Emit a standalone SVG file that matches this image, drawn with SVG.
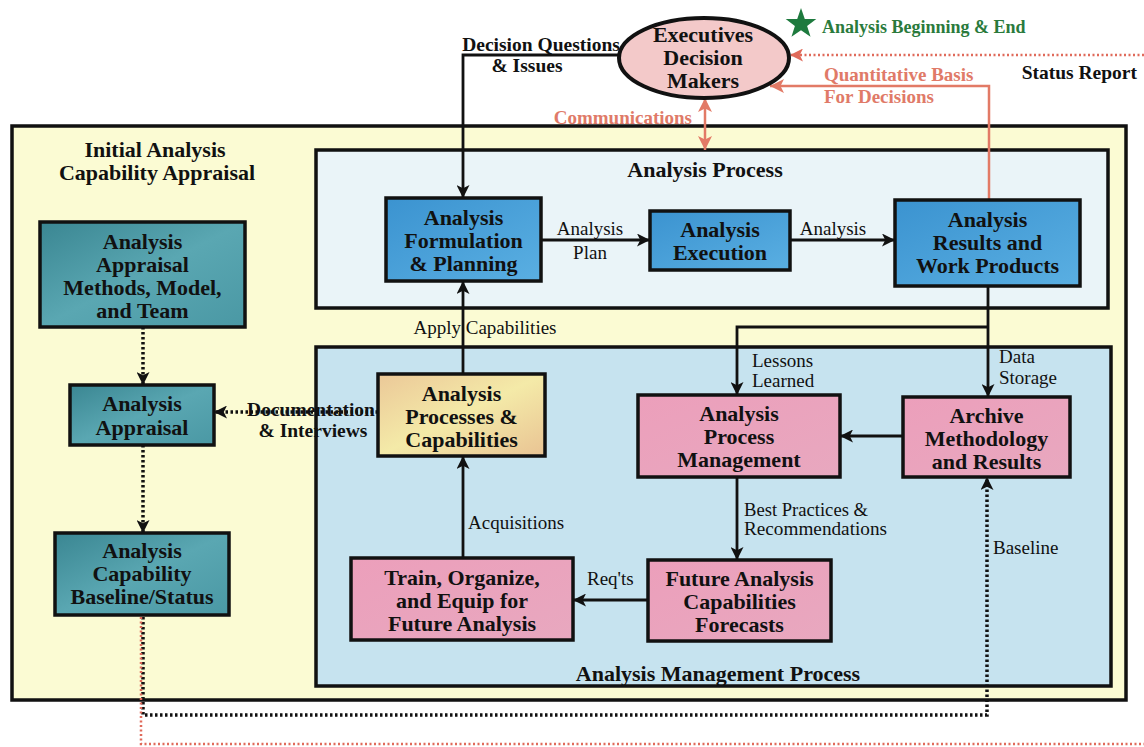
<svg xmlns="http://www.w3.org/2000/svg" width="1144" height="747" viewBox="0 0 1144 747">
<defs>
<style>
.bt{font-family:"Liberation Serif","Times New Roman",serif;font-weight:bold;fill:#111;text-anchor:middle;font-size:22px}
.box{stroke:#111;stroke-width:3.5}
.lbl{font-family:"Liberation Serif","Times New Roman",serif;fill:#111;font-size:19px}
.blbl{font-family:"Liberation Serif","Times New Roman",serif;font-weight:bold;fill:#111;font-size:19.5px}
.red{font-family:"Liberation Serif","Times New Roman",serif;font-weight:bold;fill:#e07a68;font-size:19px}
.ln{fill:none;stroke:#111;stroke-width:2.8}
.dot{fill:none;stroke:#111;stroke-width:3.5;stroke-dasharray:2.5 2.5}
.rln{fill:none;stroke:#e27a66;stroke-width:2.5}
.rdot{fill:none;stroke:#e06a5a;stroke-width:2.5;stroke-dasharray:2 2.5}
</style>
<marker id="ah" viewBox="0 0 12 12" markerWidth="13" markerHeight="13" refX="12" refY="6" orient="auto" markerUnits="userSpaceOnUse"><path d="M0,0 L12,6 L0,12 L3,6 z" fill="#111"/></marker>
<marker id="rah" viewBox="0 0 12 12" markerWidth="14" markerHeight="14" refX="12" refY="6" orient="auto-start-reverse" markerUnits="userSpaceOnUse"><path d="M0,0 L12,6 L0,12 L3,6 z" fill="#e27a66"/></marker>
<marker id="rdah" viewBox="0 0 12 12" markerWidth="13" markerHeight="13" refX="12" refY="6" orient="auto" markerUnits="userSpaceOnUse"><path d="M0,0 L12,6 L0,12 L3,6 z" fill="#e06a5a"/></marker>
<linearGradient id="blue" x1="0" y1="0" x2="1" y2="1"><stop offset="0" stop-color="#3b93d0"/><stop offset="1" stop-color="#5aafe2"/></linearGradient>
<linearGradient id="teal" x1="0" y1="0" x2="1" y2="1"><stop offset="0" stop-color="#3a8692"/><stop offset="0.5" stop-color="#5aa7b2"/><stop offset="1" stop-color="#4a98a4"/></linearGradient>
<linearGradient id="pink" x1="0" y1="0" x2="1" y2="1"><stop offset="0" stop-color="#ec9fbb"/><stop offset="1" stop-color="#e8a8bf"/></linearGradient>
<linearGradient id="tan" x1="0" y1="0" x2="1" y2="1"><stop offset="0" stop-color="#ebc898"/><stop offset="0.5" stop-color="#f4eaa8"/><stop offset="1" stop-color="#e9c393"/></linearGradient>
</defs>
<rect width="1144" height="747" fill="#ffffff"/>

<g id="containers">
<rect x="12" y="126" width="1114" height="574" fill="#fbfbd3" stroke="#111" stroke-width="3.5"/>
<text class="bt" x="155" y="157">Initial Analysis</text>
<text class="bt" x="157" y="180">Capability Appraisal</text>
<rect x="316" y="150" width="792" height="158" fill="#eaf4f8" stroke="#111" stroke-width="3.5"/>
<text class="bt" x="705" y="177">Analysis Process</text>
<rect x="316" y="347" width="795" height="339" fill="#c6e3ef" stroke="#111" stroke-width="3.5"/>
<text class="bt" x="718" y="681">Analysis Management Process</text>
</g>

<g id="connectors">
<path class="ln" d="M621,55 H463 V198" marker-end="url(#ah)"/>
<path class="ln" d="M541,240 H650" marker-end="url(#ah)"/>
<path class="ln" d="M790,240 H895" marker-end="url(#ah)"/>
<path class="ln" d="M463,374 V281" marker-end="url(#ah)"/>
<path class="ln" d="M988,286 V397" marker-end="url(#ah)"/>
<path class="ln" d="M988,327 H737 V395" marker-end="url(#ah)"/>
<path class="ln" d="M903,436 H840" marker-end="url(#ah)"/>
<path class="ln" d="M737,477 V560" marker-end="url(#ah)"/>
<path class="ln" d="M648,600 H573" marker-end="url(#ah)"/>
<path class="ln" d="M463,558 V456" marker-end="url(#ah)"/>
<path class="dot" d="M378,412 H214" marker-end="url(#ah)"/>
<path class="dot" d="M143,327 V385" marker-end="url(#ah)"/>
<path class="dot" d="M143,445 V533" marker-end="url(#ah)"/>
<path class="dot" d="M143,617 V715 H987 V477" marker-end="url(#ah)"/>
<path class="rdot" d="M141,617 V744 H1144"/>
<path class="rdot" d="M1144,55 H790" marker-end="url(#rdah)"/>
<path class="rln" d="M989,200 V86 H770" marker-end="url(#rah)"/>
<path class="rln" d="M705,150 V98" stroke-width="3" marker-start="url(#rah)" marker-end="url(#rah)"/>
<text class="blbl" x="541" y="51" text-anchor="middle">Decision Questions</text>
<text class="blbl" x="527" y="72" text-anchor="middle">&amp; Issues</text>
<text class="red" x="692" y="124" text-anchor="end">Communications</text>
<text class="red" x="824" y="81">Quantitative Basis</text>
<text class="red" x="824" y="103">For Decisions</text>
<text class="blbl" x="1137" y="79" text-anchor="end">Status Report</text>
<text class="lbl" x="590" y="235" text-anchor="middle" font-size="19.5">Analysis</text>
<text class="lbl" x="590" y="259" text-anchor="middle" font-size="19.5">Plan</text>
<text class="lbl" x="833" y="235" text-anchor="middle" font-size="19.5">Analysis</text>
<text class="lbl" x="485" y="334" text-anchor="middle">Apply Capabilities</text>
<text class="lbl" x="752" y="367" font-size="17">Lessons</text>
<text class="lbl" x="752" y="387" font-size="17">Learned</text>
<text class="lbl" x="999" y="363" font-size="13.5">Data</text>
<text class="lbl" x="999" y="384" font-size="13.5">Storage</text>
<text class="lbl" x="744" y="516" font-size="17" textLength="124" lengthAdjust="spacingAndGlyphs">Best Practices &amp;</text>
<text class="lbl" x="744" y="535" font-size="17" textLength="143" lengthAdjust="spacingAndGlyphs">Recommendations</text>
<text class="lbl" x="468" y="529">Acquisitions</text>
<text class="lbl" x="587" y="585" font-size="16.5">Req'ts</text>
<text class="lbl" x="993" y="554">Baseline</text>
<text class="blbl" x="311" y="416" text-anchor="middle" font-size="20">Documentation</text>
<text class="blbl" x="313" y="437" text-anchor="middle" font-size="20">&amp; Interviews</text>
</g>

<g id="legend">
<polygon points="801,10 804.3,19.5 814.3,19.5 806.3,25.5 809.3,35 801,29.3 792.7,35 795.7,25.5 787.7,19.5 797.7,19.5" fill="#1e7a3e" transform="translate(801,23) scale(1.15) translate(-801,-23)"/>
<text x="822" y="33" font-family="Liberation Serif, Times New Roman, serif" font-weight="bold" font-size="18" fill="#2a7a3c">Analysis  Beginning &amp; End</text>
</g>

<g id="executives">
<ellipse cx="704" cy="58" rx="85" ry="40" fill="#f3c9c9" stroke="#111" stroke-width="4"/>
<text class="bt" x="703" y="42" font-size="20">Executives</text>
<text class="bt" x="703" y="65" font-size="20">Decision</text>
<text class="bt" x="703" y="88" font-size="20">Makers</text>
</g>

<g id="formulation">
<rect class="box" x="386" y="198" width="155" height="83" fill="url(#blue)"/>
<text class="bt" x="463.5" y="225">Analysis</text>
<text class="bt" x="463.5" y="248">Formulation</text>
<text class="bt" x="463.5" y="271">&amp; Planning</text>
</g>

<g id="execution">
<rect class="box" x="650" y="211" width="140" height="59" fill="url(#blue)"/>
<text class="bt" x="720" y="237">Analysis</text>
<text class="bt" x="720" y="260">Execution</text>
</g>

<g id="results">
<rect class="box" x="895" y="200" width="185" height="86" fill="url(#blue)"/>
<text class="bt" x="987.5" y="227">Analysis</text>
<text class="bt" x="987.5" y="250">Results and</text>
<text class="bt" x="987.5" y="273">Work Products</text>
</g>

<g id="proccap">
<rect class="box" x="378" y="374" width="167" height="82" fill="url(#tan)"/>
<text class="bt" x="461.5" y="401">Analysis</text>
<text class="bt" x="461.5" y="424">Processes &amp;</text>
<text class="bt" x="461.5" y="447">Capabilities</text>
</g>

<g id="procmgmt">
<rect class="box" x="638" y="395" width="202" height="82" fill="url(#pink)"/>
<text class="bt" x="739" y="421">Analysis</text>
<text class="bt" x="739" y="444">Process</text>
<text class="bt" x="739" y="467">Management</text>
</g>

<g id="archive">
<rect class="box" x="903" y="397" width="167" height="80" fill="url(#pink)"/>
<text class="bt" x="986.5" y="423">Archive</text>
<text class="bt" x="986.5" y="446">Methodology</text>
<text class="bt" x="986.5" y="469">and Results</text>
</g>

<g id="train">
<rect class="box" x="351" y="558" width="222" height="82" fill="url(#pink)"/>
<text class="bt" x="462" y="585">Train, Organize,</text>
<text class="bt" x="462" y="608">and Equip for</text>
<text class="bt" x="462" y="631">Future Analysis</text>
</g>

<g id="future">
<rect class="box" x="648" y="560" width="183" height="81" fill="url(#pink)"/>
<text class="bt" x="739.5" y="586">Future Analysis</text>
<text class="bt" x="739.5" y="609">Capabilities</text>
<text class="bt" x="739.5" y="632">Forecasts</text>
</g>

<g id="methods">
<rect class="box" x="40" y="222" width="205" height="105" fill="url(#teal)"/>
<text class="bt" x="142.5" y="249">Analysis</text>
<text class="bt" x="142.5" y="272">Appraisal</text>
<text class="bt" x="142.5" y="295">Methods, Model,</text>
<text class="bt" x="142.5" y="318">and Team</text>
</g>

<g id="appraisal">
<rect class="box" x="70" y="385" width="144" height="60" fill="url(#teal)"/>
<text class="bt" x="142" y="411">Analysis</text>
<text class="bt" x="142" y="435">Appraisal</text>
</g>

<g id="baselinestatus">
<rect class="box" x="55" y="533" width="174" height="82" fill="url(#teal)"/>
<text class="bt" x="142" y="558">Analysis</text>
<text class="bt" x="142" y="581">Capability</text>
<text class="bt" x="142" y="604">Baseline/Status</text>
</g>
</svg>
